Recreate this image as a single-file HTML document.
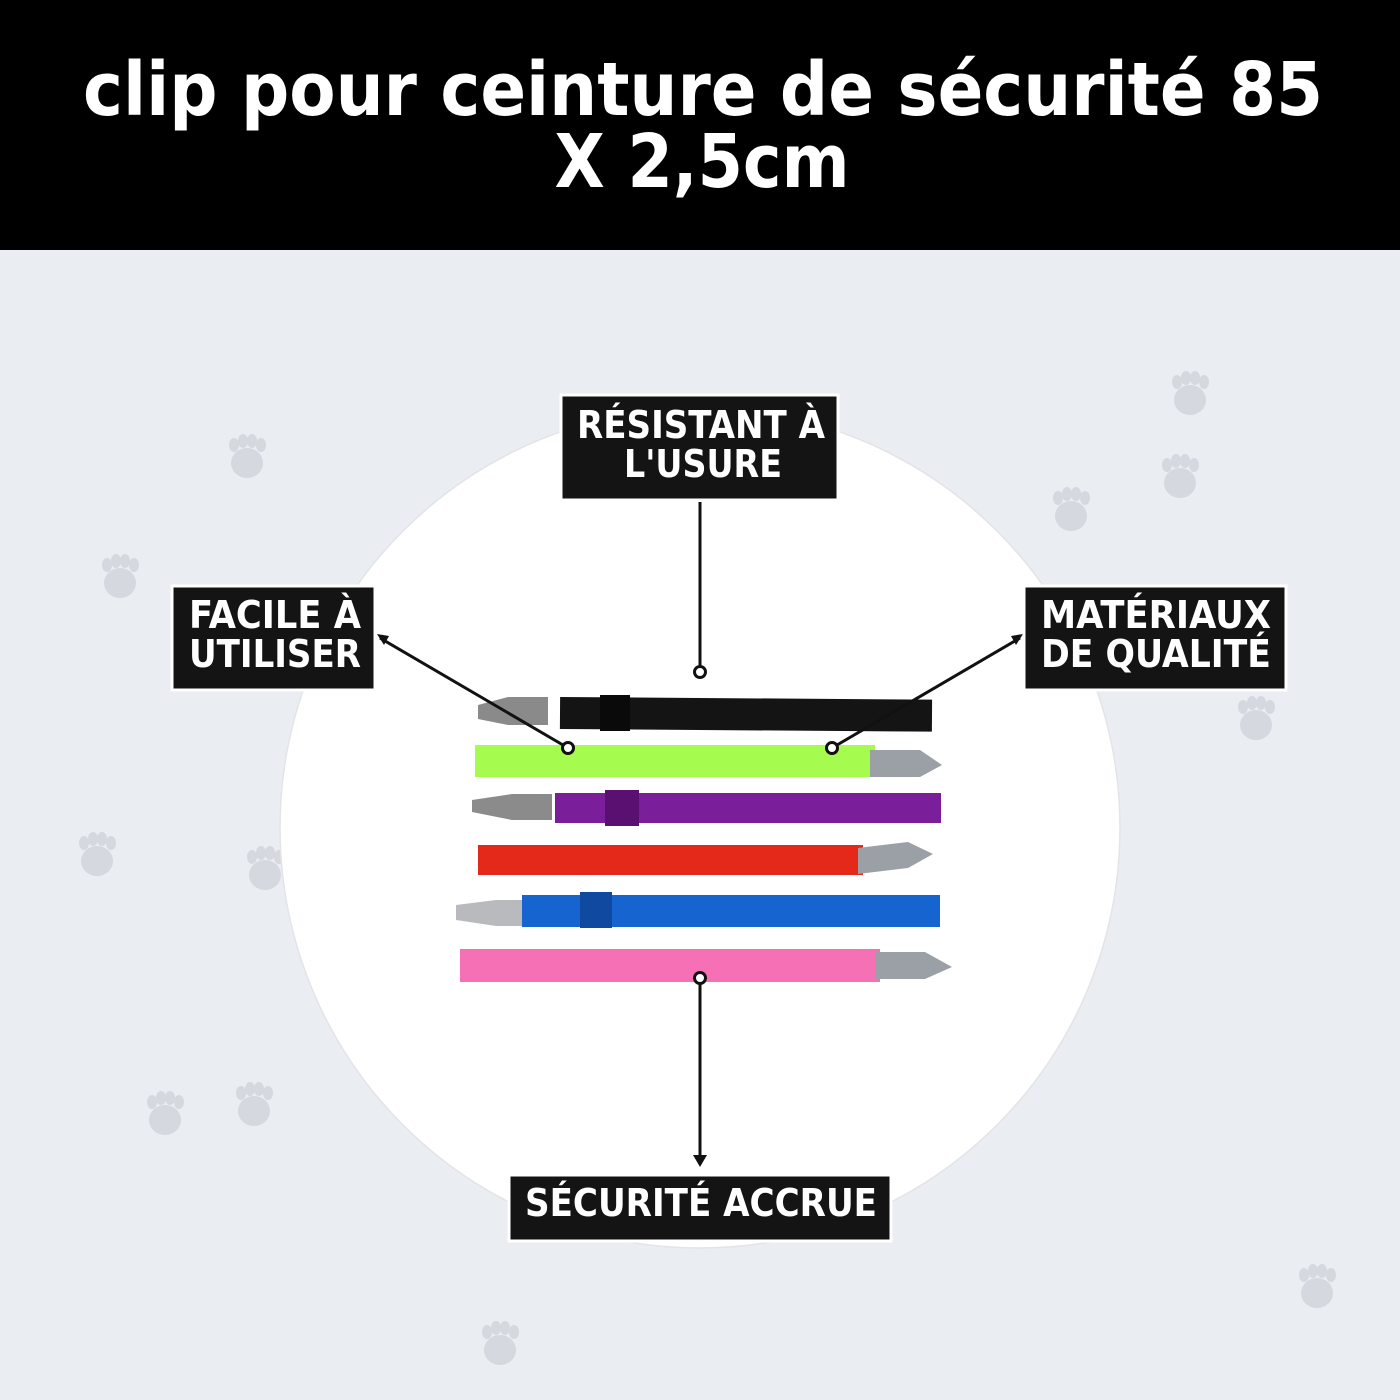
<!DOCTYPE html>
<html><head><meta charset="utf-8"><style>
html,body{margin:0;padding:0;width:1400px;height:1400px;overflow:hidden;background:#eaedf2}
</style></head><body>
<svg width="1400" height="1400" viewBox="0 0 1400 1400" xmlns="http://www.w3.org/2000/svg">
<defs>
<g id="paw"><ellipse cx="0" cy="8" rx="16" ry="15"/><ellipse cx="-13" cy="-10" rx="5" ry="7"/><ellipse cx="-4" cy="-14" rx="5" ry="7"/><ellipse cx="5" cy="-14" rx="5" ry="7"/><ellipse cx="14" cy="-10" rx="5" ry="7"/></g>
</defs>
<rect x="0" y="0" width="1400" height="250" fill="#000"/>
<g font-family="'DejaVu Sans','Liberation Sans',sans-serif" font-weight="bold" fill="#fff" text-anchor="middle" font-size="74">
<text x="703" y="115" textLength="1240" lengthAdjust="spacingAndGlyphs">clip pour ceinture de sécurité 85</text>
<text x="702" y="187" textLength="295" lengthAdjust="spacingAndGlyphs">X 2,5cm</text>
</g>
<rect x="0" y="250" width="1400" height="1150" fill="#eaedf2"/>
<g fill="#d5d8de">
<use href="#paw" x="247" y="455"/><use href="#paw" x="120" y="575" transform=""/>
<use href="#paw" x="1190" y="392" transform=""/><use href="#paw" x="1180" y="475"/><use href="#paw" x="1071" y="508"/>
<use href="#paw" x="1256" y="717"/><use href="#paw" x="97" y="853"/><use href="#paw" x="265" y="867"/>
<use href="#paw" x="165" y="1112"/><use href="#paw" x="254" y="1103"/><use href="#paw" x="1317" y="1285"/><use href="#paw" x="500" y="1342"/>
</g>
<circle cx="700" cy="828" r="420" fill="#fff" stroke="#e2e4e8" stroke-width="1.5"/>
<!-- straps -->
<g>
<path d="M478 705 l30 -8 l40 0 l0 28 l-40 0 l-30 -6z" fill="#8a8a8a"/>
<rect x="560" y="698" width="372" height="32" fill="#141414" transform="rotate(0.4 700 714)"/>
<rect x="600" y="695" width="30" height="36" fill="#0a0a0a"/>
<rect x="475" y="745" width="400" height="32" fill="#a6fb4f"/>
<path d="M870 750 l50 0 l22 15 l-22 12 l-50 0z" fill="#9aa0a6"/>
<path d="M472 800 l40 -6 l40 0 l0 26 l-40 0 l-40 -8z" fill="#8b8b8b"/>
<rect x="555" y="793" width="386" height="30" fill="#7a1e9a"/>
<rect x="605" y="790" width="34" height="36" fill="#5a1070"/>
<rect x="478" y="845" width="385" height="30" fill="#e4281a"/>
<path d="M858 848 l50 -6 l25 12 l-25 14 l-50 6z" fill="#9aa0a6"/>
<path d="M456 905 l40 -5 l28 0 l0 26 l-28 0 l-40 -6z" fill="#b8babd"/>
<rect x="522" y="895" width="418" height="32" fill="#1564d0"/>
<rect x="580" y="892" width="32" height="36" fill="#0f4aa0"/>
<rect x="460" y="949" width="420" height="33" fill="#f570b4"/>
<path d="M875 952 l50 0 l27 15 l-27 12 l-50 0z" fill="#9aa0a6"/>
</g>
<!-- connectors -->
<g stroke="#111" stroke-width="3" fill="none">
<line x1="700" y1="502" x2="700" y2="667"/>
<circle cx="700" cy="672" r="5.5" fill="#fff"/>
<line x1="380" y1="638" x2="563" y2="745"/>
<circle cx="568" cy="748" r="5.5" fill="#fff"/>
<line x1="1020" y1="638" x2="837" y2="745"/>
<circle cx="832" cy="748" r="5.5" fill="#fff"/>
<line x1="700" y1="983" x2="700" y2="1160"/>
<circle cx="700" cy="978" r="5.5" fill="#fff"/>
</g>
<polygon points="693,1155 707,1155 700,1167" fill="#111"/>
<polygon points="377,634 389,636 384,645" fill="#111"/>
<polygon points="1023,634 1011,636 1016,645" fill="#111"/>
<!-- labels -->
<g stroke="#fff" stroke-width="3" fill="#141414">
<rect x="561" y="395" width="277" height="105"/>
<rect x="172" y="586" width="203" height="104"/>
<rect x="1024" y="586" width="262" height="104"/>
<rect x="509" y="1175" width="382" height="66"/>
</g>
<g font-family="'DejaVu Sans Condensed','DejaVu Sans','Liberation Sans',sans-serif" font-stretch="condensed" font-weight="bold" fill="#fff" font-size="38" text-anchor="middle">
<text x="701" y="438" textLength="248" lengthAdjust="spacingAndGlyphs">RÉSISTANT À</text>
<text x="703" y="477" textLength="158" lengthAdjust="spacingAndGlyphs">L'USURE</text>
<text x="275" y="628" textLength="172" lengthAdjust="spacingAndGlyphs">FACILE À</text>
<text x="275" y="667" textLength="172" lengthAdjust="spacingAndGlyphs">UTILISER</text>
<text x="1156" y="628" textLength="230" lengthAdjust="spacingAndGlyphs">MATÉRIAUX</text>
<text x="1156" y="667" textLength="230" lengthAdjust="spacingAndGlyphs">DE QUALITÉ</text>
<text x="701" y="1216" textLength="352" lengthAdjust="spacingAndGlyphs">SÉCURITÉ ACCRUE</text>
</g>
</svg>
</body></html>
